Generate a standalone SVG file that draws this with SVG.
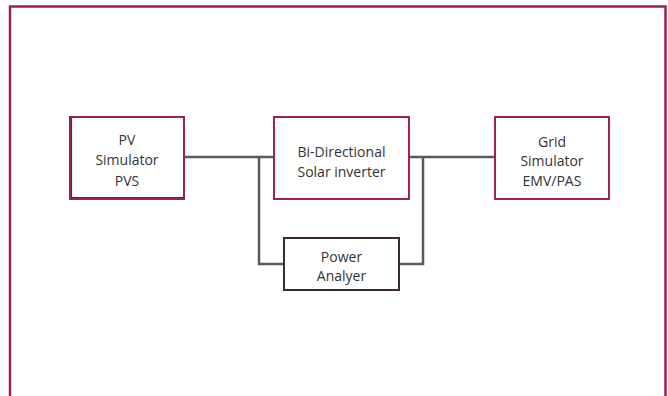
<svg xmlns="http://www.w3.org/2000/svg" width="668" height="396" viewBox="0 0 668 396">
<style>
.frame{fill:none;stroke:#9b2150;stroke-width:2.5}
.box{fill:#fff;stroke:#9b2150;stroke-width:2}
.dk{fill:none;stroke:#2f4038;stroke-width:1.2}
.pa{fill:#fff;stroke:#3a2a30;stroke-width:2}
.wire{fill:none;stroke:#5a5a5a;stroke-width:2.5}
text{font-family:"Open Sans","Noto Sans",sans-serif;font-size:14px;fill:#333;text-anchor:middle}
</style>
<rect width="668" height="396" fill="#fff"/>
<path class="frame" d="M10 400 V6.5 H665.5 V400"/>
<g id="connectors">
<path class="wire" d="M184 157 H274"/>
<path class="wire" d="M409 157 H495"/>
<path class="wire" d="M259 157 V264 H284"/>
<path class="wire" d="M423 157 V264 H399"/>
</g>
<g id="pv">
<rect class="box" x="70" y="117" width="114" height="82"/>
<path class="dk" d="M71.5 118 V197.5 H183"/>
<text x="127" y="145">PV</text>
<text x="127" y="165">Simulator</text>
<text x="127" y="186">PVS</text>
</g>
<g id="inverter">
<rect class="box" x="274" y="117" width="135" height="82"/>
<text x="341.5" y="157">Bi-Directional</text>
<text x="341.5" y="177">Solar inverter</text>
</g>
<g id="grid">
<rect class="box" x="495" y="117" width="114" height="82"/>
<text x="552" y="147">Grid</text>
<text x="552" y="166">Simulator</text>
<text x="552" y="186">EMV/PAS</text>
</g>
<g id="analyzer">
<rect class="pa" x="284" y="238" width="115" height="52"/>
<text x="341.5" y="262">Power</text>
<text x="341.5" y="281">Analyer</text>
</g>
</svg>
